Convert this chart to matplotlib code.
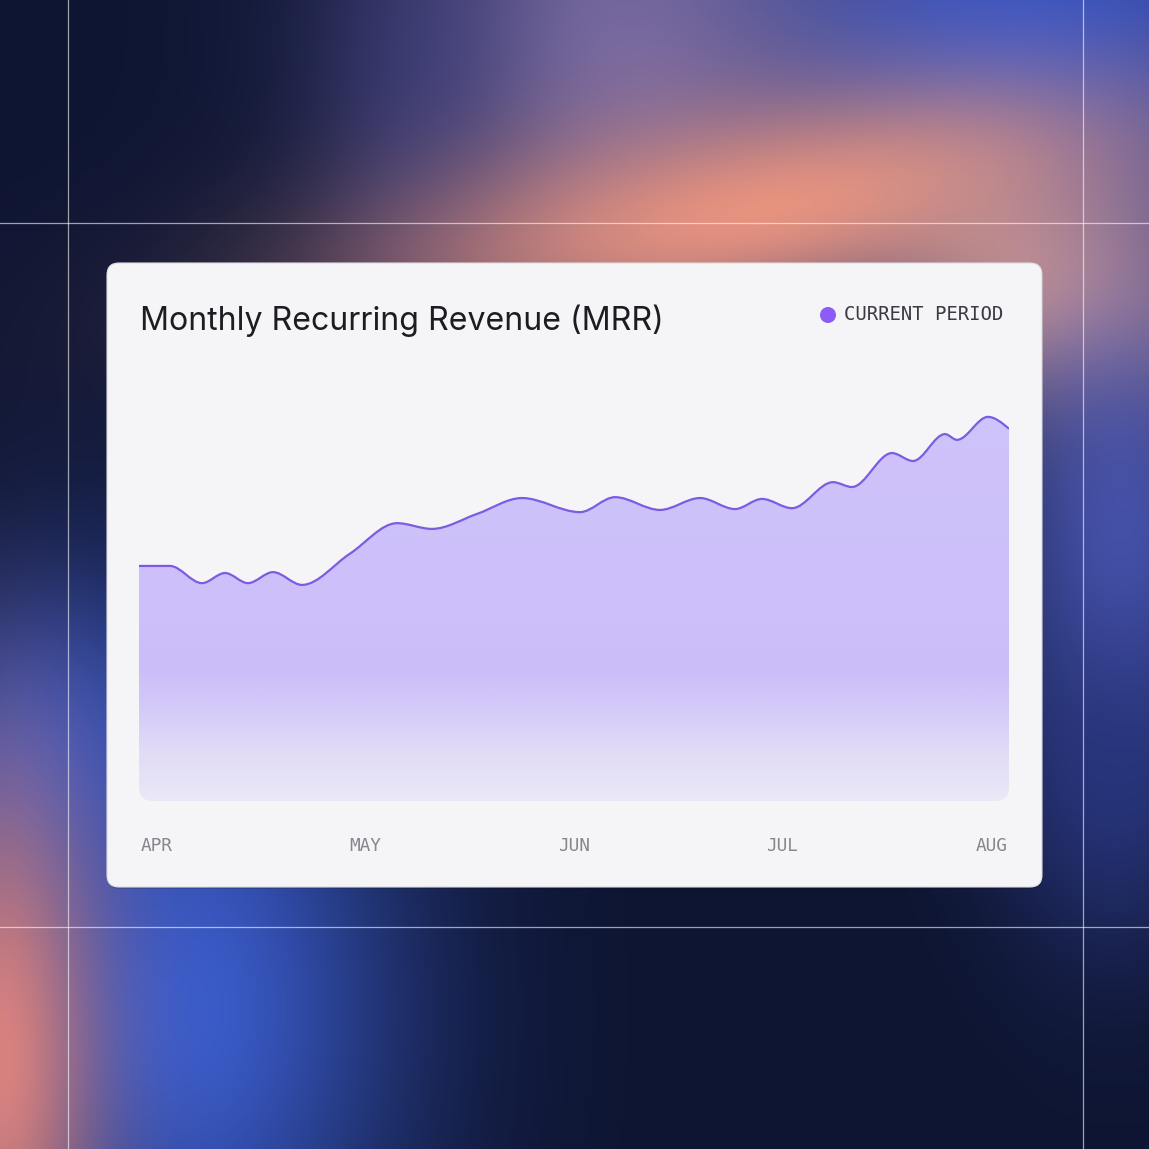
import numpy as np
import matplotlib
matplotlib.use("Agg")
import matplotlib.pyplot as plt
from matplotlib.path import Path
from matplotlib.patches import PathPatch, FancyBboxPatch, Circle
from matplotlib.colors import to_rgb, LinearSegmentedColormap

# ---------- data (days since Apr 1, MRR index) ----------
days = [0, 4.35, 8.83, 12.06, 15.28, 18.79, 22.86, 29.59, 36.18, 41.09,
        47.40, 53.71, 61.84, 66.75, 73.06, 78.67, 83.58, 87.36, 91.57,
        97.32, 99.98, 105.59, 108.54, 113.02, 114.71, 119.05, 122]
mrr = [53.3, 53.3, 49.4, 51.7, 49.4, 51.9, 49.0, 56.1, 63.0, 61.7,
       65.1, 68.7, 65.5, 68.9, 66.0, 68.7, 66.2, 68.5, 66.4,
       72.3, 71.2, 78.9, 77.1, 83.2, 81.9, 87.1, 84.4]
month_labels = ["APR", "MAY", "JUN", "JUL", "AUG"]
month_pos = [2.4, 31.7, 61.0, 90.2, 119.6]
title = "Monthly Recurring Revenue (MRR)"
legend_label = "CURRENT PERIOD"

W = H = 1149
fig = plt.figure(figsize=(W / 100, H / 100), dpi=100)

# ---------- backdrop ----------
yy, xx = np.mgrid[0:H, 0:W].astype(float)
bg = np.ones((H, W, 3)) * np.array(to_rgb("#0e1532"))
blobs = [
    (1020, 30, 260, 190, 0, "#3553c4", 1.0),
    (620, 40, 160, 200, 0, "#7f6fa6", 0.9),
    (420, 120, 70, 160, 0, "#3c3f86", 0.45),
    (760, 210, 280, 75, -10, "#e6927f", 1.0),
    (1060, 290, 120, 90, 25, "#e3a08c", 0.95),
    (1120, 540, 90, 200, 0, "#4b58b5", 0.9),
    (1110, 780, 70, 110, 0, "#263580", 0.7),
    (50, 760, 110, 120, 0, "#3150ba", 0.9),
    (190, 1010, 150, 240, 0, "#3a5bc9", 1.0),
    (0, 1060, 70, 210, 0, "#d88280", 1.0),
]
for cx, cy, sx, sy, ang, col, k in blobs:
    a = np.deg2rad(ang)
    dx, dy = xx - cx, yy - cy
    u = dx * np.cos(a) + dy * np.sin(a)
    v = -dx * np.sin(a) + dy * np.cos(a)
    w = (k * np.exp(-0.5 * ((u / sx) ** 2 + (v / sy) ** 2)))[..., None]
    bg = bg * (1 - w) + np.array(to_rgb(col)) * w

ax_bg = fig.add_axes([0, 0, 1, 1])
ax_bg.imshow(bg, extent=(0, W, H, 0), interpolation="bilinear")
ax_bg.set_xlim(0, W)
ax_bg.set_ylim(H, 0)
ax_bg.axis("off")

for gx in (67.5, 1082.5):
    ax_bg.axvline(gx, color="white", lw=0.9, alpha=0.6)
for gy in (222.5, 926.5):
    ax_bg.axhline(gy, color="white", lw=0.9, alpha=0.6)

# card
shadow = FancyBboxPatch((108, 265), 935, 624, boxstyle="round,pad=0,rounding_size=12",
                        fc="black", ec="none", alpha=0.12)
ax_bg.add_patch(shadow)
card = FancyBboxPatch((107, 263), 935, 624, boxstyle="round,pad=0,rounding_size=12",
                      fc="#f5f5f7", ec="#dcdce2", lw=0.8)
ax_bg.add_patch(card)
card_grad = np.linspace(0, 1, 200)[None, :, None]
card_img = np.array(to_rgb("#fafafb")) * (1 - card_grad) + np.array(to_rgb("#f2f2f4")) * card_grad
im = ax_bg.imshow(np.repeat(card_img, 2, axis=0), extent=(107, 1042, 887, 263),
                  interpolation="bilinear", aspect="auto")
im.set_clip_path(card)
ax_bg.set_xlim(0, W)
ax_bg.set_ylim(H, 0)

ax_bg.text(140, 321, title, fontsize=23.1, family="Inter", color="#1c1c22",
           va="center", ha="left")
ax_bg.add_patch(Circle((828, 315), 8, fc="#8b5cf6", ec="none"))
ax_bg.text(844, 315, legend_label, fontsize=13.6, family="DejaVu Sans Mono",
           color="#3a3a42", va="center", ha="left")

# ---------- chart ----------
ax = fig.add_axes([139 / W, (H - 801) / H, 870 / W, 441 / H])
ax.set_xlim(0, 122)
ax.set_ylim(0, 100)
ax.patch.set_alpha(0)
for s in ax.spines.values():
    s.set_visible(False)

# monotone cubic bezier through the points
x = np.array(days, float)
y = np.array(mrr, float)
h = np.diff(x)
s = np.diff(y) / h
m = np.zeros_like(y)
for i in range(1, len(y) - 1):
    p = (s[i - 1] * h[i] + s[i] * h[i - 1]) / (h[i - 1] + h[i])
    m[i] = (np.sign(s[i - 1]) + np.sign(s[i])) * min(abs(s[i - 1]), abs(s[i]), 0.5 * abs(p))
m[0] = (3 * s[0] - m[1]) / 2
m[-1] = (3 * s[-1] - m[-2]) / 2
if s[0] == 0:
    m[0] = 0

verts = [(x[0], y[0])]
codes = [Path.MOVETO]
for i in range(len(x) - 1):
    d = h[i] / 3
    verts += [(x[i] + d, y[i] + m[i] * d), (x[i + 1] - d, y[i + 1] - m[i + 1] * d), (x[i + 1], y[i + 1])]
    codes += [Path.CURVE4] * 3
line_path = Path(verts, codes)

rx = 14 * 122 / 870
ry = 14 * 100 / 441
fverts = verts + [(x[-1], ry), (x[-1], 0), (x[-1] - rx, 0), (x[0] + rx, 0), (x[0], 0), (x[0], ry), (x[0], y[0])]
fcodes = codes + [Path.LINETO, Path.CURVE3, Path.CURVE3, Path.LINETO, Path.CURVE3, Path.CURVE3, Path.CLOSEPOLY]
fill_patch = PathPatch(Path(fverts, fcodes), fc="none", ec="none")
ax.add_patch(fill_patch)

cmap = LinearSegmentedColormap.from_list("fill", [
    (0.0, "#ebe8f6"), (0.12, "#e0daf7"), (0.22, "#d3c8f8"),
    (0.30, "#cbbdf8"), (0.40, "#cdc0fa"), (1.0, "#cfc3fb")])
grad = np.linspace(0, 1, 256)[:, None]
fim = ax.imshow(grad, cmap=cmap, extent=(0, 122, 0, 100), origin="lower",
                aspect="auto", interpolation="bilinear")
fim.set_clip_path(fill_patch)

ax.add_patch(PathPatch(line_path, fc="none", ec="#7c5ce2", lw=1.6))
ax.set_xlim(0, 122)
ax.set_ylim(0, 100)

ax.set_yticks([])
ax.set_xticks(month_pos)
ax.set_xticklabels(month_labels, family="DejaVu Sans Mono", fontsize=12.8, color="#86868e")
ax.tick_params(axis="x", length=0, pad=26)

fig.savefig("out.png", dpi=100)
